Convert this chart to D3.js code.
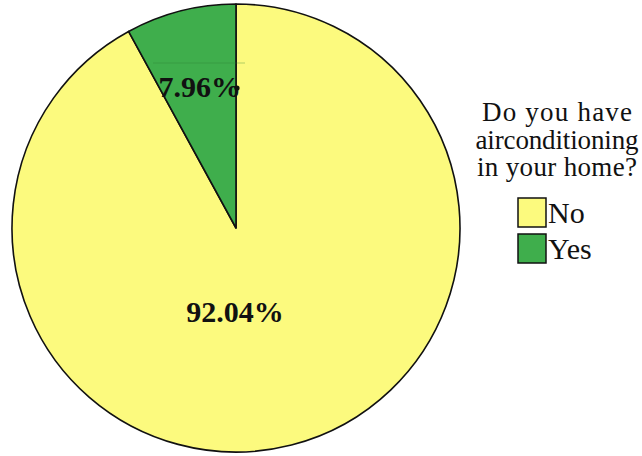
<!DOCTYPE html>
<html>
<head>
<meta charset="utf-8">
<script src="https://cdn.jsdelivr.net/npm/d3@7"></script>
<style>
  html, body { margin: 0; padding: 0; background: #fff; }
  svg { display: block; }
  svg text { font-family: "Liberation Serif", "Times New Roman", serif; fill: #111; }
</style>
</head>
<body>
<svg id="chart" width="642" height="456"></svg>
<script>
// Survey answers and their shares of respondents (percent)
const categories = ["No", "Yes"];
const shares = [92.04, 7.96];
const colors = ["#fcfa7e", "#3fae4c"];
const legendTitle = ["Do you have", "airconditioning", "in your home?"];

// Layout
const titleLineWidths = [150, 163, 160];

const svg = d3.select("#chart");
const cx = 236, cy = 228, r = 224;

const data = categories.map((c, i) => ({ cat: c, value: shares[i], color: colors[i] }));

// Clockwise from 12 o'clock; "Yes" ends up just left of the top
const pie = d3.pie().sort(null).value(d => d.value).startAngle(0).endAngle(2 * Math.PI);
const arcs = pie(data);
const arc = d3.arc().innerRadius(0).outerRadius(r);

const g = svg.append("g").attr("transform", `translate(${cx},${cy})`);
g.selectAll("path.slice")
  .data(arcs)
  .join("path")
  .attr("class", "slice")
  .attr("d", arc)
  .attr("fill", d => d.data.color)
  .attr("stroke", "#111")
  .attr("stroke-width", 1.6)
  .attr("stroke-linejoin", "round");

// Percentage labels
const fmt = v => d3.format(".2f")(v) + "%";

// "No" label in the big slice
g.append("text")
  .attr("x", -1)
  .attr("y", 94)
  .attr("text-anchor", "middle")
  .style("font-weight", "bold")
  .style("font-size", "30px")
  .text(fmt(shares[0]));

// "Yes" label, right-aligned against the slice boundary
const yesLabelY = -131;
g.append("line")
  .attr("x1", -83).attr("x2", 9)
  .attr("y1", -165).attr("y2", -165)
  .attr("stroke", "#2f7d36")
  .attr("stroke-opacity", 0.45)
  .attr("stroke-width", 0.8);
g.append("text")
  .attr("x", 5)
  .attr("y", yesLabelY)
  .attr("text-anchor", "end")
  .style("font-weight", "bold")
  .style("font-size", "30px")
  .text(fmt(shares[1]));
g.append("circle")
  .attr("cx", 1).attr("cy", yesLabelY - 9)
  .attr("r", 2.6)
  .attr("fill", "#111");

// Legend
const legend = svg.append("g");
legend.selectAll("text.title")
  .data(legendTitle)
  .join("text")
  .attr("class", "title")
  .attr("x", 557)
  .attr("y", (d, i) => 121 + i * 27.5)
  .attr("text-anchor", "middle")
  .attr("textLength", (d, i) => titleLineWidths[i])
  .attr("lengthAdjust", "spacing")
  .style("font-size", "27px")
  .text(d => d);

const items = legend.selectAll("g.item")
  .data(data)
  .join("g")
  .attr("class", "item")
  .attr("transform", (d, i) => `translate(518,${198 + i * 36})`);
items.append("rect")
  .attr("width", 28).attr("height", 29)
  .attr("fill", d => d.color)
  .attr("stroke", "#111")
  .attr("stroke-width", 1.5);
items.append("text")
  .attr("x", 30)
  .attr("y", 25)
  .style("font-size", "30px")
  .text(d => d.cat);
</script>
</body>
</html>
